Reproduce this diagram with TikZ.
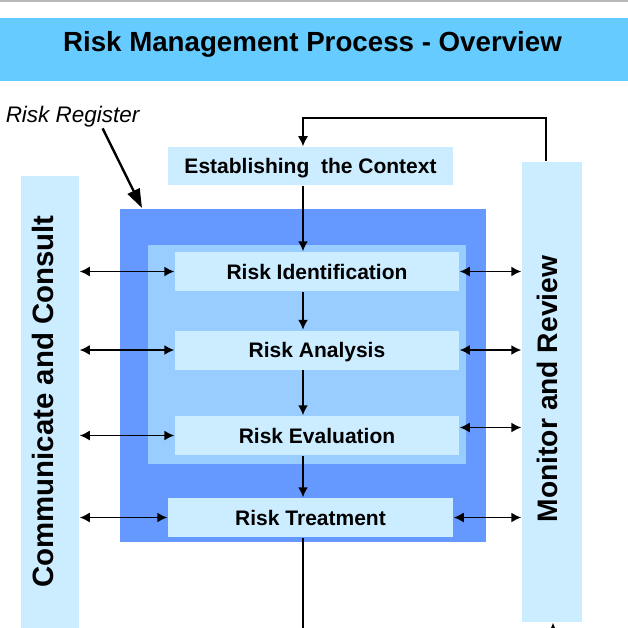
\documentclass[tikz,border=0pt]{standalone}
\usepackage{fontspec}
\setmainfont{Liberation Sans}
\usetikzlibrary{positioning,arrows.meta}

\definecolor{bandblue}{RGB}{102,204,255}
\definecolor{paleblue}{RGB}{204,236,255}
\definecolor{deepblue}{RGB}{102,153,255}
\definecolor{midblue}{RGB}{153,204,255}

\begin{document}
\begin{tikzpicture}[x=1pt,y=-1pt,>={Latex[length=10pt,width=10pt]},line width=1.5pt]

	\tikzstyle{stepbox}=[fill=paleblue,inner sep=0pt,minimum width=284pt,minimum height=39pt,text height=15pt,text depth=0pt,font=\fontsize{21}{24}\selectfont\bfseries]
	\tikzstyle{panel}=[inner sep=0pt]
	\tikzstyle{side}=[rotate=90,inner sep=0pt,text height=20pt,text depth=0pt]

	\useasboundingbox (0,0) rectangle (628,628);
	\draw[gray!55,line width=1.5pt] (0,1) -- (628,1);

	% title
	\node[panel,fill=bandblue,minimum width=628pt,minimum height=63pt] (band) at (314,49.5) {};
	\node[inner sep=0pt,text height=20pt,text depth=0pt,font=\fontsize{27.7}{30}\selectfont\bfseries] (title) at (312.5,42) {Risk Management Process - Overview};

	% side columns
	\node[panel,fill=paleblue,minimum width=58pt,minimum height=452pt] (comm) at (50,402) {};
	\node[side,font=\fontsize{29.4}{32}\selectfont\bfseries] (commtext) at (43,401.5) {Communicate and Consult};
	\node[panel,fill=paleblue,minimum width=60pt,minimum height=460pt] (monitor) at (552,392) {};
	\node[side,font=\fontsize{28.2}{30}\selectfont\bfseries] (montext) at (547,389) {Monitor and Review};

	% register
	\node[panel,fill=deepblue,minimum width=366pt,minimum height=333pt] (outer) at (303,375.5) {};
	\node[panel,fill=midblue,minimum width=318pt,minimum height=219pt] (inner) at (307,354.5) {};

	\node[stepbox,minimum width=285pt,minimum height=38pt] (ctx) at (310.5,166) {Establishing~ the Context};
	\node[stepbox] (ident) at (317,271.5) {Risk Identification};
	\node[stepbox,below=38pt of ident] (analysis) {Risk Analysis};
	\node[stepbox,below=45pt of analysis] (eval) {Risk Evaluation};
	\node[stepbox,minimum width=285pt] (treat) at (310.5,517.5) {Risk Treatment};

	\node[inner sep=0pt,anchor=base west,font=\fontsize{22.5}{25}\selectfont\itshape] (reg) at (5,123) {Risk Register};
	\coordinate (regtip) at (142,208);
	\draw[-{Triangle[length=19pt,width=13pt]},line width=2.4pt] ([xshift=30pt]reg.south) -- (regtip);

	% flow
	\coordinate (spine) at (303,0);
	\coordinate (loop) at (303,118);
	\coordinate (fb) at (546,0);
	\coordinate (out) at (303,632);
	\coordinate (back) at (553,632);

	\draw[->,line width=1.7pt] (ctx.south -| spine) -- (ident.north -| spine);
	\foreach \a/\b in {ident/analysis,analysis/eval,eval/treat}
		\draw[->,line width=1.7pt] (\a.south -| spine) -- (\b.north -| spine);
	\draw[line width=2.2pt] (treat.south -| spine) -- (out);
	\draw[->,line width=1.3pt] (monitor.north -| fb) |- (loop) -- (ctx.north -| loop);
	\draw[->] (back) -- (back |- monitor.south);

	\foreach \n in {ident,analysis,eval,treat}
		\draw[<->] (\n.west -| comm.east) -- (\n.west);
	\foreach \n in {ident,analysis,treat}
		\draw[<->] (\n.east) -- (\n.east -| monitor.west);
	\draw[<->] ([yshift=8pt]eval.east) -- ([yshift=8pt]eval.east -| monitor.west);
\end{tikzpicture}
\end{document}
